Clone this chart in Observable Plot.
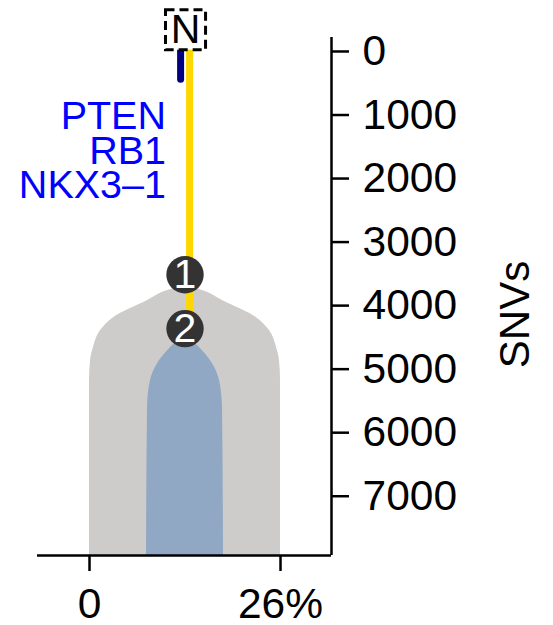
<!DOCTYPE html>
<html>
<head>
<meta charset="utf-8">
<script src="https://cdn.jsdelivr.net/npm/d3@7"></script>
<script src="https://cdn.jsdelivr.net/npm/@observablehq/plot@0.6"></script>
<style>
  body { margin: 0; background: #fff; }
  svg { display: block; }
  svg [aria-label^="x-axis"] path, svg [aria-label^="y-axis"] path,
  svg [aria-label$="axis"] line { stroke-width: 2.5px; }
</style>
</head>
<body>
<div id="chart"></div>
<script>
// ---- data ----
const xTicks = [0, 26];
const xTickLabels = ["0", "26%"];
const yTicks = [0, 1000, 2000, 3000, 4000, 5000, 6000, 7000];
const yDomain = [-220, 7933];
const xDomain = [-7.08, 32.94];

// clone 1 (grey) outline: SNVs and half-width (% CCF) around centre
const cloneCentre = 13;
const clone1SNVs = [3686, 3764, 3921, 4189, 4393, 4661, 4866, 5180, 7933];
const clone1Half = [0, 2.38, 5.1, 9.73, 11.5, 12.46, 12.86, 13, 13];
// clone 2 (blue) outline
const clone2SNVs = [4441, 4661, 4913, 5180, 5605, 7933];
const clone2Half = [0, 1.97, 3.74, 4.7, 5.1, 5.24];

// branches
const branchNames = ["trunk", "driver"];
const branchX = [13.62, 12.4];
const branchFrom = [-341, -341];
const branchTo = [4362, 445];
const branchColors = ["#FFD700", "#000080"];

// nodes
const nodeLabels = ["1", "2"];
const nodeSNVs = [3513, 4362];
const nodeX = [13, 13];

// root
const rootLabel = "N";
const rootX = 13.07;
const rootSNVs = -341;

// driver genes
const genes = ["PTEN", "RB1", "NKX3\u20131"];
const genesX = 10.41;
const genesSNVs = 1594;

// ---- build tables ----
const clone1 = clone1SNVs.map((y, i) => ({y, x1: cloneCentre - clone1Half[i], x2: cloneCentre + clone1Half[i]}));
const clone2 = clone2SNVs.map((y, i) => ({y, x1: cloneCentre - clone2Half[i], x2: cloneCentre + clone2Half[i]}));
const branches = branchNames.map((n, i) => ({name: n, x: branchX[i], from: branchFrom[i], to: branchTo[i], color: branchColors[i]}));
const nodes = nodeLabels.map((t, i) => ({t, x: nodeX[i], y: nodeSNVs[i]}));
const root = [{t: rootLabel, x: rootX, y: rootSNVs}];

const font = "'Liberation Sans', Arial, Helvetica, sans-serif";

const chart = Plot.plot({
  width: 553,
  height: 625,
  marginLeft: 37,
  marginRight: 222,
  marginTop: 37,
  marginBottom: 70,
  style: {fontFamily: font, fontSize: "42.5px", background: "white", color: "black", overflow: "visible"},
  x: {domain: xDomain, ticks: xTicks, tickFormat: d => xTickLabels[xTicks.indexOf(d)], tickSize: 16, tickPadding: 16, label: null},
  y: {domain: yDomain, reverse: true, axis: "right", ticks: yTicks, tickFormat: d => String(d), tickSize: 17, tickPadding: 14, label: null},
  marks: [
    Plot.areaX(clone1, {y: "y", x1: "x1", x2: "x2", fill: "#cdcccb", curve: "monotone-y"}),
    Plot.areaX(clone2, {y: "y", x1: "x1", x2: "x2", fill: "#90a8c3", curve: "monotone-y"}),
    Plot.ruleX(branches, {x: "x", y1: "from", y2: "to", stroke: "color", strokeWidth: 7, strokeLinecap: "round"}),
    Plot.dot(nodes, {x: "x", y: "y", r: 18.7, fill: "#333333", stroke: null}),
    Plot.text(nodes, {x: "x", y: "y", text: "t", fill: "white", fontSize: 41}),
    Plot.dot(root, {x: "x", y: "y", symbol: "square", r: 22.6, fill: "white", stroke: "black", strokeWidth: 3, strokeDasharray: "9,5"}),
    Plot.text(root, {x: "x", y: "y", text: "t", fill: "black", fontSize: 41}),
    Plot.text([genes.join("\n")], {x: () => genesX, y: () => genesSNVs, textAnchor: "end", fill: "#0000FF", fontSize: 39.5, lineHeight: 0.87}),
    Plot.ruleY([yDomain[1]], {stroke: "black", strokeWidth: 2.5}),
    Plot.ruleX([xDomain[1]], {stroke: "black", strokeWidth: 2.5}),
    Plot.text(["SNVs"], {frameAnchor: "right", textAnchor: "middle", rotate: -90, dx: 184, dy: 18, fill: "black", fontSize: 42})
  ]
});
document.getElementById("chart").appendChild(chart);
</script>
</body>
</html>
